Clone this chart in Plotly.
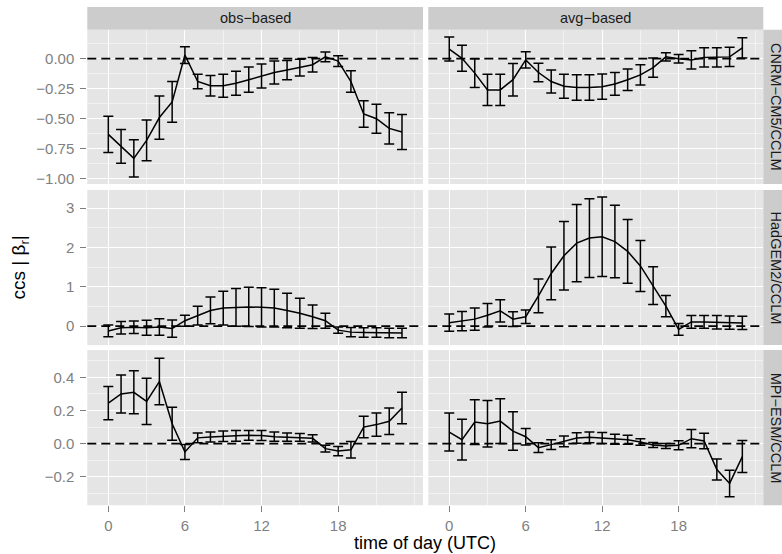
import plotly.graph_objects as go

W, H = 782, 554
hours = list(range(24))

col_labels = ["obs−based", "avg−based"]
row_labels = ["CNRM−CM5/CCLM", "HadGEM2/CCLM", "MPI−ESM/CCLM"]

# CNRM-CM5/CCLM
cnrm_obs = [-0.63, -0.73, -0.83, -0.68, -0.49, -0.36, 0.03, -0.19, -0.225, -0.225, -0.205, -0.175,
            -0.145, -0.115, -0.095, -0.075, -0.05, 0.015, -0.02, -0.19, -0.46, -0.50, -0.58, -0.61]
cnrm_obs_err = [0.15, 0.14, 0.155, 0.17, 0.18, 0.17, 0.07, 0.06, 0.085, 0.095, 0.10, 0.105,
                0.10, 0.095, 0.08, 0.07, 0.06, 0.04, 0.045, 0.09, 0.11, 0.12, 0.13, 0.145]
cnrm_avg = [0.08, 0.003, -0.12, -0.26, -0.26, -0.175, -0.01, -0.115, -0.19, -0.23, -0.24, -0.24,
            -0.233, -0.21, -0.175, -0.135, -0.075, 0.015, 0.0, -0.01, 0.01, 0.01, 0.015, 0.09]
cnrm_avg_err = [0.10, 0.108, 0.12, 0.13, 0.13, 0.135, 0.068, 0.077, 0.095, 0.10, 0.107, 0.107,
                0.105, 0.095, 0.09, 0.085, 0.08, 0.035, 0.035, 0.075, 0.08, 0.08, 0.08, 0.085]

# HadGEM2/CCLM
had_obs = [-0.12, -0.04, -0.025, -0.04, -0.02, -0.06, 0.14, 0.27, 0.40, 0.46, 0.48, 0.49,
           0.48, 0.46, 0.40, 0.33, 0.24, 0.14, -0.10, -0.15, -0.16, -0.16, -0.17, -0.17]
had_obs_err = [0.15, 0.16, 0.16, 0.19, 0.21, 0.22, 0.14, 0.24, 0.34, 0.43, 0.48, 0.50,
               0.50, 0.48, 0.44, 0.38, 0.30, 0.19, 0.08, 0.12, 0.12, 0.12, 0.12, 0.12]
had_avg = [0.09, 0.13, 0.18, 0.28, 0.39, 0.18, 0.24, 0.77, 1.34, 1.79, 2.11, 2.24,
           2.27, 2.15, 1.90, 1.53, 1.03, 0.51, -0.08, 0.11, 0.11, 0.10, 0.09, 0.085]
had_avg_err = [0.22, 0.245, 0.28, 0.30, 0.28, 0.19, 0.17, 0.43, 0.67, 0.87, 0.98, 1.00,
               1.01, 0.92, 0.81, 0.65, 0.48, 0.27, 0.15, 0.16, 0.16, 0.17, 0.17, 0.17]

# MPI-ESM/CCLM
mpi_obs = [0.245, 0.30, 0.31, 0.255, 0.375, 0.12, -0.05, 0.035, 0.04, 0.045, 0.047, 0.05,
           0.049, 0.042, 0.04, 0.038, 0.032, -0.03, -0.045, -0.037, 0.10, 0.115, 0.135, 0.215]
mpi_obs_err = [0.10, 0.115, 0.13, 0.14, 0.14, 0.10, 0.045, 0.03, 0.03, 0.032, 0.032, 0.03,
               0.03, 0.028, 0.025, 0.023, 0.022, 0.02, 0.028, 0.05, 0.065, 0.07, 0.08, 0.095]
mpi_avg = [0.07, 0.024, 0.13, 0.12, 0.136, 0.076, 0.042, -0.024, -0.006, 0.014, 0.034, 0.038,
           0.034, 0.026, 0.024, 0.01, -0.008, -0.014, -0.01, 0.03, 0.016, -0.156, -0.24, -0.078]
mpi_avg_err = [0.115, 0.123, 0.135, 0.14, 0.135, 0.116, 0.05, 0.03, 0.03, 0.032, 0.032, 0.032,
               0.033, 0.03, 0.027, 0.02, 0.015, 0.015, 0.027, 0.055, 0.047, 0.063, 0.08, 0.097]

series = [
    [(cnrm_obs, cnrm_obs_err), (cnrm_avg, cnrm_avg_err)],
    [(had_obs, had_obs_err), (had_avg, had_avg_err)],
    [(mpi_obs, mpi_obs_err), (mpi_avg, mpi_avg_err)],
]

x_ticks = [0, 6, 12, 18]
x_range = [-1.645, 24.645]
y_ranges = [[-1.043, 0.24], [-0.48, 3.46], [-0.372, 0.565]]
y_dtick = [0.25, 1, 0.2]
y_minor = [0.125, 0.5, 0.1]
y_fmt = [".2f", "d", ".1f"]

# pixel geometry
col_px = [(87.3, 423.0), (428.3, 763.3)]
row_px = [(30.0, 185.0), (191.0, 347.0), (352.0, 508.0)]

def xd(a, b):
    return [a / W, b / W]

def yd(top, bot):
    return [1 - bot / H, 1 - top / H]

fig = go.Figure()
layout = {}
shapes = []
annotations = []

grid_major = "#FFFFFF"
grid_minor = "#F2F2F2"
tick_col = "#7F7F7F"
font_fam = "Liberation Sans, Arial, sans-serif"
tick_size = 15

for r in range(3):
    for c in range(2):
        i = r * 2 + c + 1
        xa = "x" if i == 1 else f"x{i}"
        ya = "y" if i == 1 else f"y{i}"
        xkey = "xaxis" if i == 1 else f"xaxis{i}"
        ykey = "yaxis" if i == 1 else f"yaxis{i}"
        vals, errs = series[r][c]
        fig.add_trace(go.Scatter(
            x=hours, y=vals, mode="lines", xaxis=xa, yaxis=ya,
            line=dict(color="black", width=1.5),
            error_y=dict(type="data", array=errs, visible=True, color="black",
                         thickness=1.5, width=5),
            showlegend=False, hoverinfo="skip"))
        layout[xkey] = dict(
            domain=xd(*col_px[c]), range=x_range, anchor=ya,
            tickmode="array", tickvals=x_ticks, ticktext=[str(t) for t in x_ticks],
            showticklabels=(r == 2), ticks="outside" if r == 2 else "",
            ticklen=6, tickcolor=tick_col, tickwidth=1.2, ticklabelstandoff=1,
            tickfont=dict(color=tick_col, size=tick_size, family=font_fam),
            showgrid=True, gridcolor=grid_major, gridwidth=1.2,
            minor=dict(tickmode="linear", tick0=0, dtick=3, showgrid=True,
                       gridcolor=grid_minor, gridwidth=0.7),
            zeroline=False, showline=False, fixedrange=True)
        layout[ykey] = dict(
            domain=yd(*row_px[r]), range=y_ranges[r], anchor=xa,
            tickmode="linear", tick0=0, dtick=y_dtick[r], tickformat=y_fmt[r],
            showticklabels=(c == 0), ticks="outside" if c == 0 else "",
            ticklen=6, tickcolor=tick_col, tickwidth=1.2, ticklabelstandoff=3,
            tickfont=dict(color=tick_col, size=tick_size, family=font_fam),
            showgrid=True, gridcolor=grid_major, gridwidth=1.2,
            minor=dict(tickmode="linear", tick0=0, dtick=y_minor[r], showgrid=True,
                       gridcolor=grid_minor, gridwidth=0.7),
            zeroline=False, showline=False, fixedrange=True)
        shapes.append(dict(type="line", xref=f"{xa} domain", yref=ya, x0=0, x1=1, y0=0, y1=0,
                           line=dict(color="black", width=1.8, dash="9px,5px")))

# strips
for c in range(2):
    a, b = col_px[c]
    shapes.append(dict(type="rect", xref="paper", yref="paper", x0=a / W, x1=b / W,
                       y0=1 - 30 / H, y1=1 - 7 / H, fillcolor="#CCCCCC", line=dict(width=0),
                       layer="below"))
    annotations.append(dict(text=col_labels[c], xref="paper", yref="paper",
                            x=(a + b) / 2 / W, y=1 - 18.5 / H, showarrow=False,
                            font=dict(size=14.5, color="#1A1A1A", family=font_fam),
                            xanchor="center", yanchor="middle"))
for r in range(3):
    t, b = row_px[r]
    shapes.append(dict(type="rect", xref="paper", yref="paper", x0=763.3 / W, x1=1.0,
                       y0=1 - b / H, y1=1 - t / H, fillcolor="#CCCCCC", line=dict(width=0),
                       layer="below"))
    annotations.append(dict(text=row_labels[r], xref="paper", yref="paper",
                            x=776 / W, y=1 - (t + b) / 2 / H, showarrow=False, textangle=90,
                            font=dict(size=14.5, color="#1A1A1A", family=font_fam),
                            xanchor="center", yanchor="middle"))

annotations.append(dict(text="time of day (UTC)", xref="paper", yref="paper",
                        x=(87.3 + 763.3) / 2 / W, y=1 - 546 / H, showarrow=False,
                        font=dict(size=18, color="black", family=font_fam),
                        xanchor="center", yanchor="middle"))
annotations.append(dict(text="ccs | β<sub>r</sub>|", xref="paper", yref="paper",
                        x=20 / W, y=1 - 269 / H, showarrow=False, textangle=-90,
                        font=dict(size=19, color="black", family=font_fam),
                        xanchor="center", yanchor="middle"))

fig.update_layout(
    width=W, height=H, margin=dict(l=0, r=0, t=0, b=0),
    paper_bgcolor="white", plot_bgcolor="#E5E5E5",
    shapes=shapes, annotations=annotations, showlegend=False,
    **layout)

fig.write_html("out.html")
